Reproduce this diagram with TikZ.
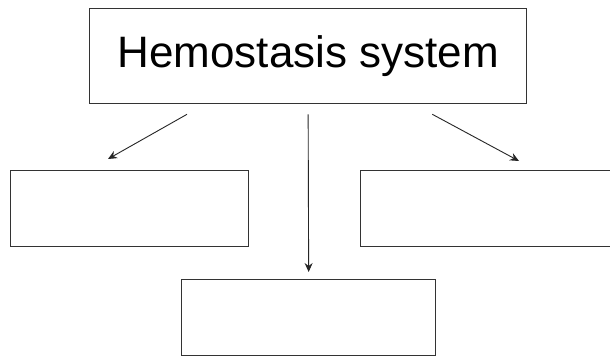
\documentclass[tikz,border=0pt]{standalone}
\usepackage{fontspec}
\setmainfont{Liberation Sans}
\usetikzlibrary{arrows.meta}
\begin{document}
\begin{tikzpicture}[x=1pt,y=-1pt,
  box/.style={draw=black!80,line width=1.3pt,inner sep=0pt,anchor=north west},
  link/.style={draw=black!85,line width=0.9pt,-{Stealth[length=9pt,width=8pt,inset=3pt]}}]
\useasboundingbox (0,0) rectangle (610,356);
\fill[white] (0,0) rectangle (610,356);
\clip (0,0) rectangle (610,356);
% title box and the three empty boxes below it
\node[box,minimum width=437pt,minimum height=95pt,font=\fontsize{44}{48}\selectfont] (hs) at (89,8) {Hemostasis system};
\node[box,minimum width=238pt,minimum height=76pt] (lb) at (10,170) {};
\node[box,minimum width=262pt,minimum height=76pt] (rb) at (360,170) {};
\node[box,minimum width=254pt,minimum height=76pt] (bb) at (181,279) {};
% free ends of the arrows, set a little apart from the boxes
\coordinate (l0) at ([xshift=98pt,yshift=-10pt]hs.south west);
\coordinate (l1) at ([xshift=98pt,yshift=11pt]lb.north west);
\coordinate (m0) at ([yshift=-10pt]hs.south);
\coordinate (m1) at ([yshift=7pt]bb.north);
\coordinate (r0) at ([xshift=-95pt,yshift=-10pt]hs.south east);
\coordinate (r1) at ([xshift=159pt,yshift=9pt]rb.north west);
\draw[link] (l0) -- (l1);
\draw[link] (m0) -- (m1);
\draw[link] (r0) -- (r1);
\end{tikzpicture}
\end{document}
